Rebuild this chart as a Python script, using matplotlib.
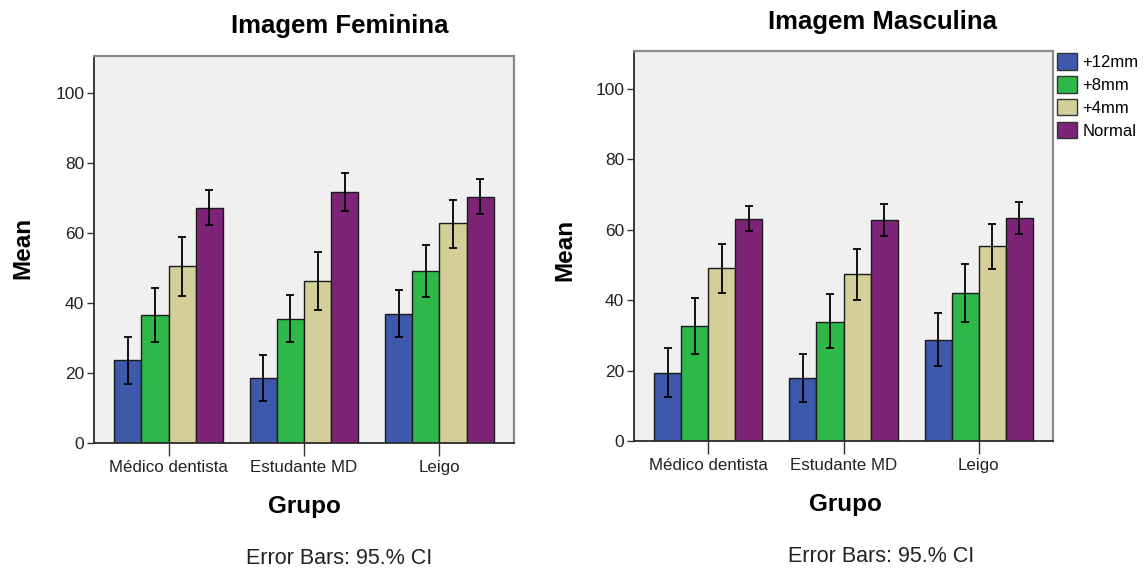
import matplotlib
matplotlib.use("Agg")
import matplotlib.pyplot as plt
import numpy as np
from matplotlib.patches import Patch

plt.rcParams['font.family'] = ['Liberation Sans', 'DejaVu Sans']

groups = ["Médico dentista", "Estudante MD", "Leigo"]
series = ["+12mm", "+8mm", "+4mm", "Normal"]
colors = ["#3E58AC", "#2FB84A", "#D4CE98", "#7D2479"]

# Imagem Feminina: means and 95% CI bounds (rows = series, cols = groups)
fem_mean = [[23.7, 18.6, 37.0],
            [36.5, 35.6, 49.2],
            [50.6, 46.3, 62.8],
            [67.3, 71.8, 70.4]]
fem_low = [[17.0, 12.0, 30.3],
           [28.9, 28.9, 41.9],
           [42.1, 38.0, 55.8],
           [62.3, 66.4, 65.4]]
fem_high = [[30.2, 25.1, 43.8],
            [44.3, 42.4, 56.5],
            [58.9, 54.5, 69.4],
            [72.3, 77.3, 75.5]]

# Imagem Masculina
mas_mean = [[19.4, 17.9, 28.7],
            [32.6, 33.8, 41.9],
            [49.1, 47.3, 55.3],
            [63.1, 62.7, 63.2]]
mas_low = [[12.4, 11.0, 21.3],
           [24.7, 26.3, 33.7],
           [42.0, 40.0, 48.7],
           [59.6, 58.2, 58.7]]
mas_high = [[26.3, 24.6, 36.2],
            [40.5, 41.6, 50.1],
            [56.0, 54.5, 61.5],
            [66.7, 67.2, 67.8]]

yticks = [0, 20, 40, 60, 80, 100]

W, H = 1145, 575
fig = plt.figure(figsize=(W / 100, H / 100), dpi=100)
fig.patch.set_facecolor("white")


def px_axes(x0, y0, x1, y1):
    return fig.add_axes([x0 / W, 1 - y1 / H, (x1 - x0) / W, (y1 - y0) / H])


def draw(ax, mean, low, high):
    mean = np.array(mean)
    low = np.array(low)
    high = np.array(high)
    x = np.arange(len(groups))
    bw = 0.2
    for i in range(len(series)):
        pos = x + (i - 1.5) * bw
        ax.bar(pos, mean[i], width=bw, color=colors[i], edgecolor="#1a1a1a",
               linewidth=1.0, zorder=2)
        err = np.vstack([mean[i] - low[i], high[i] - mean[i]])
        ax.errorbar(pos, mean[i], yerr=err, fmt="none", ecolor="black",
                    elinewidth=1.3, capsize=2.8, capthick=1.3, zorder=3)
    ax.set_facecolor("#F0F0F0")
    ax.set_xlim(-0.55, 2.55)
    ax.set_ylim(0, 110.7)
    ax.set_yticks(yticks)
    ax.set_xticks(x)
    ax.set_xticklabels(groups, fontsize=12.2)
    ax.tick_params(axis="y", labelsize=12.5, length=5, width=1, color="#333333",
                   pad=2, labelcolor="#222222")
    ax.tick_params(axis="x", length=9, width=1, color="#333333", pad=3,
                   labelcolor="#222222")
    for s in ["left", "bottom"]:
        ax.spines[s].set_color("#2b2b2b")
        ax.spines[s].set_linewidth(1.3)
    for s in ["top", "right"]:
        ax.spines[s].set_color("#8a8a8a")
        ax.spines[s].set_linewidth(1.6)


ax1 = px_axes(94, 56, 514, 443)
draw(ax1, fem_mean, fem_low, fem_high)
ax2 = px_axes(634, 51, 1053, 441)
draw(ax2, mas_mean, mas_low, mas_high)

# Titles and labels
fig.text(340 / W, 1 - 26 / H, "Imagem Feminina", ha="center", va="center",
         fontsize=18.5, fontweight="bold")
fig.text(882 / W, 1 - 22 / H, "Imagem Masculina", ha="center", va="center",
         fontsize=18.5, fontweight="bold")
fig.text(23 / W, 1 - 248 / H, "Mean", ha="center", va="center", rotation=90,
         fontsize=17.5, fontweight="bold")
fig.text(565 / W, 1 - 250 / H, "Mean", ha="center", va="center", rotation=90,
         fontsize=17.5, fontweight="bold")
fig.text(304 / W, 1 - 506 / H, "Grupo", ha="center", va="center",
         fontsize=17.5, fontweight="bold")
fig.text(845 / W, 1 - 504 / H, "Grupo", ha="center", va="center",
         fontsize=17.5, fontweight="bold")
fig.text(339 / W, 1 - 558 / H, "Error Bars: 95.% CI", ha="center", va="center",
         fontsize=15.5, color="#222222")
fig.text(881 / W, 1 - 556.5 / H, "Error Bars: 95.% CI", ha="center", va="center",
         fontsize=15.5, color="#222222")

# Legend
handles = [Patch(facecolor=c, edgecolor="#333333", linewidth=1.0) for c in colors]
fig.legend(handles, series, loc="upper left",
           bbox_to_anchor=(1054 / W, 1 - 50 / H), frameon=False,
           fontsize=12, handlelength=1.15, handleheight=1.15,
           handletextpad=0.35, labelspacing=0.35, borderaxespad=0,
           borderpad=0.2)

fig.savefig("out.png", dpi=100)
